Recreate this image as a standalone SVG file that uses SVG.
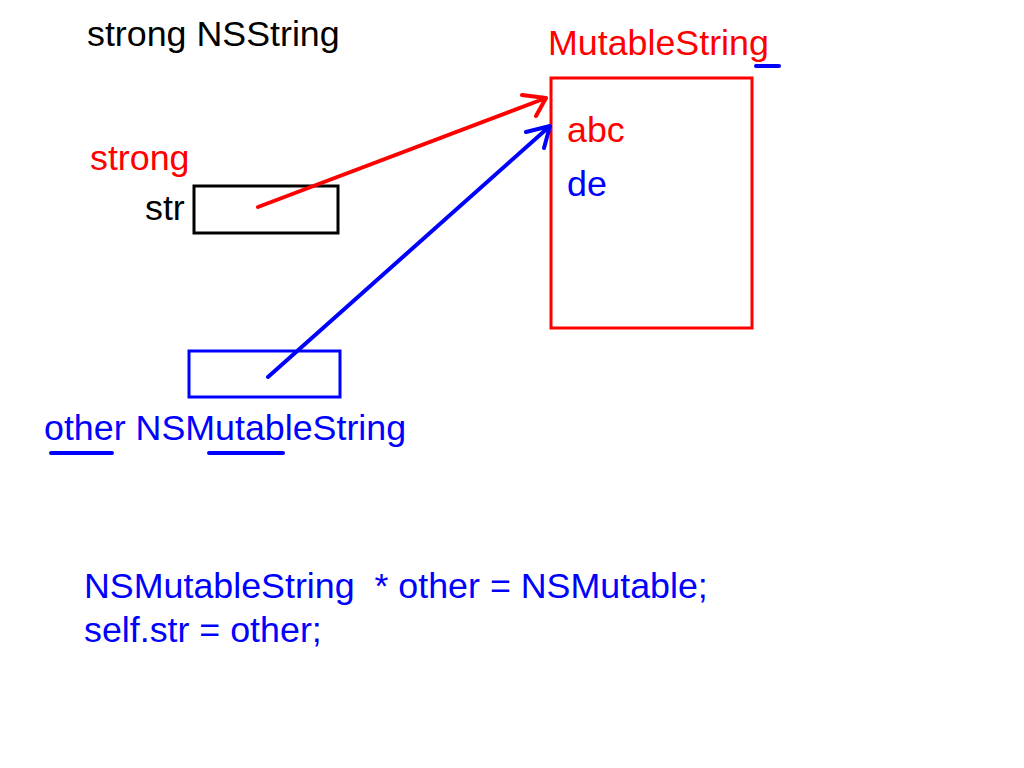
<svg xmlns="http://www.w3.org/2000/svg" width="1024" height="768" viewBox="0 0 1024 768">
<style>
text{font-family:"Liberation Sans",Arial,sans-serif;font-size:35.8px}
.r{fill:#ff0000}.b{fill:#0000ff}.k{fill:#000}
.box{fill:none;stroke-width:3}
.ln{fill:none;stroke-width:4;stroke-linecap:round;stroke-linejoin:round}
</style>
<rect width="1024" height="768" fill="#fff"/>
<text class="k" x="87" y="46">strong NSString</text>
<g id="str">
<text class="r" x="90" y="170">strong</text>
<text class="k" x="145" y="220">str</text>
<rect class="box" x="194" y="186" width="144" height="47" stroke="#000"/>
</g>
<g id="other">
<rect class="box" x="189" y="351" width="151" height="46" stroke="#0000ff"/>
<text class="b" x="44" y="440">other NSMutableString</text>
<path class="ln" stroke="#0000ff" d="M51 453H112M209 453H283"/>
</g>
<g id="mutable">
<text class="r" x="548" y="55">MutableString</text>
<path class="ln" stroke="#0000ff" d="M756 66H779"/>
<rect class="box" x="551" y="78" width="201" height="250" stroke="#ff0000"/>
<text class="r" x="567" y="142">abc</text>
<text class="b" x="567" y="196">de</text>
</g>
<g id="connectors">
<path class="ln" stroke="#ff0000" d="M258 207L546 98M522 95L546 98L536 116"/>
<path class="ln" stroke="#0000ff" d="M268 377L550 126M526 132L550 126L544 148"/>
</g>
<g id="code">
<text class="b" x="84" y="598" xml:space="preserve">NSMutableString  * other = NSMutable;</text>
<text class="b" x="84" y="642">self.str = other;</text>
</g>
</svg>
